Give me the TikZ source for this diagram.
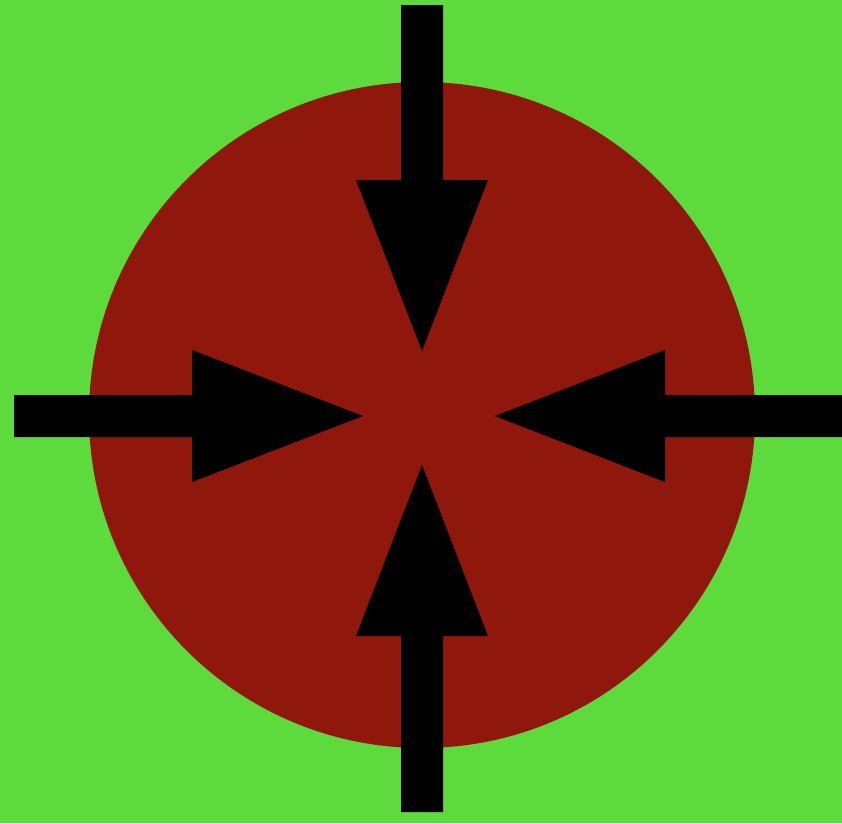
\documentclass[tikz,border=0pt]{standalone}
\definecolor{bggreen}{HTML}{5DDA3C}
\definecolor{discred}{HTML}{8F170C}
\tikzset{arrowfill/.style={fill=black,draw=none}}
\begin{document}
\begin{tikzpicture}[x=1pt,y=-1pt]
\fill[bggreen] (0,0) rectangle (842,823);
\useasboundingbox (0,0) rectangle (842,823);
\fill[discred] (422,415) circle[radius=333];
% top arrow
\fill[arrowfill] (401,5) -- (443,5) -- (443,180) -- (488,180) -- (422,351) -- (356,180) -- (401,180) -- cycle;
% bottom arrow
\fill[arrowfill] (401,812) -- (443,812) -- (443,636) -- (488,636) -- (422,465) -- (356,636) -- (401,636) -- cycle;
% left arrow
\fill[arrowfill] (14,395) -- (14,437) -- (192,437) -- (192,482) -- (363,416) -- (192,350) -- (192,395) -- cycle;
% right arrow
\fill[arrowfill] (842,395) -- (842,437) -- (665,437) -- (665,482) -- (495,416) -- (665,350) -- (665,395) -- cycle;
\end{tikzpicture}
\end{document}
